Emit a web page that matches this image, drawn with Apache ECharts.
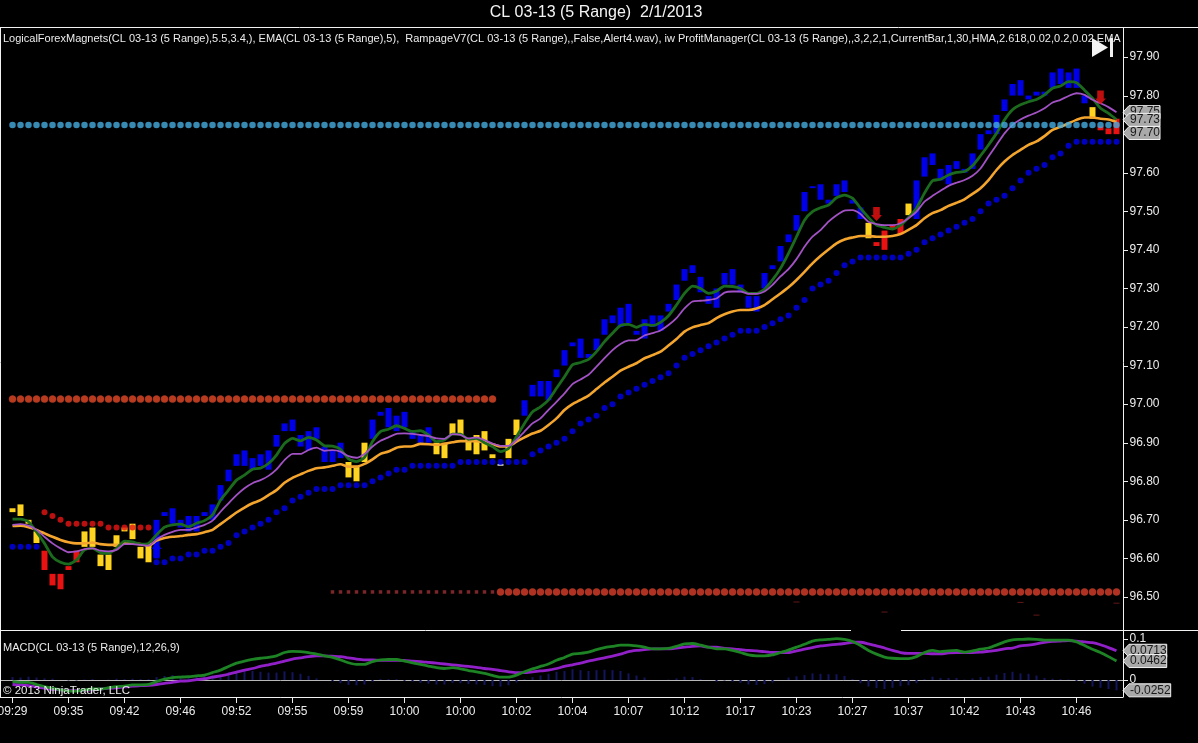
<!DOCTYPE html>
<html>
<head>
<meta charset="utf-8">
<style>html,body{margin:0;padding:0;background:#000}#c{width:1198px;height:743px}</style>
<script src="https://cdn.jsdelivr.net/npm/echarts@6/dist/echarts.min.js"></script>
</head>
<body>
<div id="c"></div>
<script>
var tickLabels = ['09:29','09:35','09:42','09:46','09:52','09:55','09:59','10:00','10:00','10:02','10:04','10:07','10:12','10:17','10:23','10:27','10:37','10:42','10:43','10:46'];
var priceTicks = [96.5,96.6,96.7,96.8,96.9,97.0,97.1,97.2,97.3,97.4,97.5,97.6,97.7,97.8,97.9];
var macdTicks = [0,0.1];

var barColorRuns = [['G',4],['R',5],['G',9],['B',24],['G',3],['B',8],['G',8],['W',1],['G',2],['B',43],['G',1],['R',4],['G',1],['B',22],['G',1],['R',3]];
var barLows = [
96.72,96.71,96.69,96.64,96.57,96.53,96.52,96.57,96.59,96.63,
96.63,96.58,96.57,96.63,96.67,96.65,96.60,96.59,96.60,96.71,
96.69,96.68,96.67,96.67,96.71,96.70,96.75,96.80,96.84,96.84,
96.83,96.84,96.83,96.89,96.93,96.93,96.89,96.88,96.91,96.85,
96.85,96.86,96.81,96.80,96.85,96.91,96.97,96.94,96.93,96.94,
96.91,96.90,96.90,96.87,96.86,96.92,96.92,96.88,96.87,96.88,
96.86,96.84,96.86,96.92,96.97,97.02,97.02,97.01,97.07,97.10,
97.15,97.12,97.12,97.14,97.18,97.21,97.20,97.21,97.18,97.17,
97.20,97.19,97.24,97.27,97.32,97.34,97.29,97.26,97.25,97.31,
97.31,97.29,97.25,97.24,97.30,97.35,97.37,97.42,97.45,97.50,
97.56,97.53,97.52,97.54,97.55,97.52,97.48,97.43,97.41,97.40,
97.455,97.44,97.49,97.48,97.59,97.62,97.58,97.57,97.61,97.60,
97.61,97.66,97.70,97.70,97.76,97.80,97.80,97.79,97.80,97.80,
97.82,97.83,97.82,97.82,97.78,97.74,97.71,97.70,97.70];
var barHighs = [
96.73,96.74,96.70,96.67,96.62,96.56,96.56,96.58,96.62,96.67,
96.68,96.61,96.61,96.66,96.68,96.69,96.63,96.64,96.70,96.72,
96.73,96.70,96.71,96.71,96.72,96.74,96.79,96.83,96.87,96.88,
96.86,96.87,96.88,96.92,96.95,96.96,96.92,96.93,96.94,96.89,
96.88,96.90,96.85,96.84,96.90,96.96,96.98,96.99,96.97,96.98,
96.93,96.92,96.94,96.90,96.90,96.95,96.96,96.91,96.92,96.93,
96.87,96.845,96.91,96.96,97.01,97.05,97.06,97.06,97.09,97.14,
97.16,97.17,97.13,97.17,97.22,97.23,97.25,97.26,97.19,97.22,
97.23,97.23,97.26,97.31,97.35,97.36,97.33,97.28,97.30,97.34,
97.35,97.31,97.28,97.28,97.34,97.36,97.41,97.44,97.49,97.55,
97.565,97.57,97.53,97.57,97.58,97.53,97.51,97.47,97.42,97.45,
97.465,97.48,97.52,97.58,97.64,97.65,97.61,97.62,97.63,97.61,
97.65,97.70,97.71,97.75,97.79,97.83,97.84,97.80,97.81,97.81,
97.86,97.87,97.86,97.87,97.80,97.77,97.72,97.715,97.74];
var stops = [
96.63,96.63,96.63,96.63,96.72,96.71,96.70,96.69,96.69,96.69,
96.69,96.69,96.68,96.68,96.68,96.68,96.68,96.68,96.59,96.59,
96.60,96.60,96.61,96.61,96.62,96.62,96.63,96.64,96.66,96.67,
96.68,96.69,96.70,96.72,96.73,96.75,96.76,96.77,96.78,96.78,
96.78,96.79,96.79,96.79,96.79,96.80,96.81,96.82,96.83,96.83,
96.84,96.84,96.84,96.84,96.84,96.84,96.85,96.85,96.85,96.85,
96.85,96.85,96.85,96.85,96.85,96.87,96.88,96.89,96.90,96.91,
96.93,96.95,96.96,96.97,96.99,97.00,97.02,97.03,97.04,97.05,
97.06,97.07,97.08,97.10,97.12,97.13,97.14,97.15,97.16,97.17,
97.18,97.19,97.19,97.19,97.20,97.21,97.22,97.23,97.25,97.27,
97.30,97.31,97.32,97.34,97.36,97.37,97.38,97.38,97.38,97.38,
97.38,97.38,97.39,97.40,97.42,97.43,97.44,97.45,97.46,97.47,
97.48,97.50,97.52,97.53,97.54,97.56,97.58,97.60,97.61,97.62,
97.64,97.65,97.67,97.68,97.68,97.68,97.68,97.68,97.68];
var stopRedFrom = 4, stopRedTo = 17;

var greenLine = [
96.702,96.702,96.695,96.669,96.639,96.604,96.590,96.585,96.596,96.622,
96.626,96.615,96.613,96.626,96.645,96.643,96.637,96.639,96.661,96.681,
96.687,96.689,96.682,96.691,96.698,96.713,96.751,96.777,96.803,96.816,
96.831,96.834,96.846,96.868,96.898,96.911,96.905,96.914,96.907,96.892,
96.891,96.883,96.858,96.851,96.862,96.903,96.929,96.935,96.944,96.937,
96.929,96.931,96.920,96.903,96.907,96.922,96.922,96.909,96.911,96.900,
96.890,96.877,96.885,96.916,96.950,96.980,96.993,97.011,97.041,97.071,
97.102,97.108,97.116,97.136,97.162,97.184,97.204,97.207,97.199,97.207,
97.204,97.212,97.229,97.257,97.287,97.306,97.300,97.287,97.293,97.306,
97.305,97.300,97.287,97.287,97.298,97.322,97.352,97.391,97.434,97.477,
97.499,97.509,97.516,97.535,97.542,97.534,97.508,97.484,97.464,97.458,
97.454,97.464,97.484,97.508,97.547,97.579,97.583,97.594,97.601,97.603,
97.618,97.644,97.672,97.702,97.737,97.763,97.776,97.784,97.790,97.802,
97.819,97.825,97.836,97.833,97.814,97.793,97.767,97.754,97.738];
var purpleLine = [
96.687,96.689,96.685,96.674,96.656,96.639,96.626,96.616,96.618,96.624,
96.626,96.620,96.618,96.622,96.637,96.637,96.635,96.633,96.649,96.661,
96.669,96.674,96.674,96.680,96.687,96.698,96.721,96.743,96.764,96.782,
96.795,96.803,96.814,96.831,96.855,96.871,96.871,96.881,96.887,96.879,
96.881,96.877,96.865,96.861,96.871,96.890,96.905,96.914,96.923,96.924,
96.923,96.920,96.917,96.911,96.910,96.922,96.920,96.911,96.914,96.907,
96.898,96.892,96.892,96.907,96.929,96.950,96.963,96.985,97.006,97.028,
97.052,97.064,97.076,97.097,97.119,97.140,97.156,97.165,97.166,97.178,
97.184,97.191,97.205,97.223,97.248,97.266,97.268,97.270,97.274,97.289,
97.292,97.292,97.286,97.286,97.292,97.309,97.331,97.350,97.376,97.408,
97.434,97.451,97.473,97.490,97.502,97.503,97.493,97.473,97.467,97.464,
97.464,97.469,97.482,97.499,97.525,97.540,97.553,97.566,97.574,97.581,
97.592,97.611,97.642,97.672,97.702,97.724,97.738,97.748,97.756,97.767,
97.782,97.789,97.799,97.806,97.802,97.789,97.780,97.770,97.757];
var orangeLine = [
96.684,96.685,96.681,96.674,96.665,96.656,96.648,96.642,96.639,96.639,
96.641,96.637,96.635,96.635,96.639,96.639,96.637,96.633,96.646,96.653,
96.656,96.658,96.661,96.663,96.668,96.674,96.689,96.704,96.719,96.732,
96.743,96.751,96.764,96.777,96.796,96.809,96.818,96.827,96.834,96.836,
96.840,96.844,96.838,96.838,96.845,96.857,96.871,96.877,96.887,96.890,
96.891,96.897,96.896,96.894,96.897,96.901,96.904,96.904,96.904,96.900,
96.896,96.890,96.890,96.903,96.914,96.924,96.931,96.946,96.963,96.985,
97.000,97.011,97.022,97.039,97.056,97.071,97.087,97.097,97.106,97.119,
97.127,97.136,97.152,97.169,97.188,97.199,97.205,97.210,97.223,97.233,
97.240,97.244,97.244,97.248,97.257,97.272,97.287,97.303,97.322,97.343,
97.365,97.384,97.401,97.417,97.427,97.432,97.436,97.436,97.434,97.434,
97.436,97.441,97.452,97.464,97.482,97.495,97.503,97.514,97.522,97.531,
97.545,97.560,97.581,97.607,97.629,97.646,97.659,97.672,97.681,97.695,
97.711,97.719,97.728,97.737,97.743,97.743,97.740,97.738,97.732];

var macdLine = [
-.004,-.006,-.006,-.011,-.016,-.020,-.024,-.027,-.027,-.024,
-.022,-.022,-.019,-.016,-.015,-.012,-.012,-.011,-.004,.002,
.006,.007,.008,.010,.012,.018,.024,.033,.041,.046,
.050,.053,.055,.059,.067,.070,.069,.067,.063,.059,
.055,.049,.042,.038,.038,.045,.049,.050,.050,
.046,.042,.038,.034,.030,.028,.030,.027,.023,.020,
.016,.011,.007,.007,.012,.020,.027,.033,.039,.048,
.055,.063,.065,.068,.074,.079,.082,.085,.085,.083,
.080,.076,.076,.077,.082,.088,.089,.085,.080,.076,
.076,.072,.067,.061,.059,.059,.061,.067,.073,.080,
.087,.095,.098,.099,.101,.099,.094,.084,.072,.063,
.056,.053,.052,.052,.057,.067,.072,.069,.071,.072,
.068,.071,.075,.078,.085,.093,.098,.099,.100,.099,
.097,.097,.097,.097,.093,.084,.075,.067,.057,.0462];
var signalLine = [
-.011,-.012,-.014,-.017,-.020,-.023,-.024,-.026,-.026,-.025,
-.024,-.022,-.020,-.019,-.017,-.015,-.014,-.013,-.011,-.008,
-.006,-.003,-.002,.001,.003,.007,.010,.014,.019,.024,
.028,.033,.037,.041,.046,.051,.054,.057,.059,.059,
.058,.057,.054,.051,.049,.049,.048,.048,.048,
.048,.046,.045,.043,.041,.039,.037,.035,.033,.031,
.028,.026,.023,.020,.018,.018,.020,.022,.024,.028,
.033,.037,.041,.046,.050,.054,.058,.063,.069,.072,
.074,.076,.076,.076,.078,.080,.082,.083,.080,.080,
.077,.076,.074,.072,.071,.069,.067,.067,.067,.071,
.075,.079,.083,.085,.087,.089,.092,.092,.088,.083,
.078,.072,.067,.065,.065,.065,.064,.064,.066,.067,
.067,.067,.068,.070,.072,.076,.078,.083,.085,.088,
.092,.094,.095,.096,.095,.093,.091,.086,.079,.0713];
var macdHist = [
.007,.006,.008,.006,.004,.003,0,-.001,-.001,.001,
.002,0,.001,.003,.002,.003,.002,.002,.007,.010,
.012,.010,.010,.009,.009,.011,.014,.019,.022,.022,
.022,.020,.018,.018,.021,.019,.015,.010,.004,0,
-.003,-.008,-.012,-.013,-.011,-.004,.002,.002,.002,
-.002,-.004,-.007,-.009,-.011,-.011,-.007,-.008,-.010,-.011,
-.012,-.015,-.016,-.013,-.006,.002,.007,.011,.015,.020,
.022,.026,.024,.022,.024,.025,.024,.022,.016,.011,
.006,0,0,.001,.004,.008,.007,.002,0,-.004,
-.001,-.004,-.007,-.011,-.012,-.010,-.006,0,.006,.009,
.012,.016,.015,.014,.014,.010,.002,-.008,-.016,-.020,
-.022,-.019,-.015,-.013,-.008,.002,.008,.005,.005,.005,
.001,.004,.007,.008,.013,.017,.020,.016,.015,.011,
.005,.003,.002,.001,-.002,-.009,-.016,-.019,-.022,-.0252];

var cyanLevel = 97.724, cyanFrom = 0, cyanTo = 138;
var upperRedLevel = 97.013, upperRedFrom = 0, upperRedTo = 60;
var lowerLevel = 96.513, lowerSquareFrom = 40, lowerSquareTo = 60, lowerDotFrom = 61, lowerDotTo = 138;

var sellArrows = [[108, 97.493], [136, 97.795]];
var buyArrows = [[18, 96.622]];
var smudges = [[98,96.487],[126,96.486],[138,96.484],[109,96.461],[128,96.453]];

var priceTagLabels = ['97.75','97.73','97.70'];
var priceTagValues = [97.757,97.737,97.703];
var macdTagLabels = ['0.0713','0.0462','-0.0252'];
var macdTagValues = [0.0713,0.0462,-0.0252];

var titleText = 'CL 03-13 (5 Range)  2/1/2013';
var indicatorText = 'LogicalForexMagnets(CL 03-13 (5 Range),5.5,3.4,), EMA(CL 03-13 (5 Range),5),  RampageV7(CL 03-13 (5 Range),,False,Alert4.wav), iw ProfitManager(CL 03-13 (5 Range),,3,2,2,1,CurrentBar,1,30,HMA,2.618,0.02,0.2,0.02,EMA';
var macdText = 'MACD(CL 03-13 (5 Range),12,26,9)';
var copyrightText = '\u00a9 2013 NinjaTrader, LLC';

var PAD = 2, N = barLows.length, LAST = N + PAD;  /* two blank slots before, one after */
var FONT = '"Liberation Sans", Arial, sans-serif';
var WHITE = '#ececec';
var colorMap = {G:'#ffd420', R:'#e81212', B:'#0000e8', W:'#c8c8c8'};

var barColors = [];
barColorRuns.forEach(function(r){ for (var k = 0; k < r[1]; k++) barColors.push(colorMap[r[0]]); });

var categories = [];
for (var c = 0; c <= LAST; c++) {
  var b = c - PAD;
  categories.push(b >= 0 && b % 7 === 0 && tickLabels[b / 7] ? tickLabels[b / 7] : '');
}
function pad(arr) { return [ '-', '-' ].concat(arr, [ '-' ]); }
function at(i, v) { return [i + PAD, v]; }
function level(v, from, to) { var o = []; for (var i = from; i <= to; i++) o.push(at(i, v)); return o; }

var candles = [];
for (var p = 0; p <= LAST; p++) {
  var q = p - PAD;
  if (q >= 0 && q < N) {
    var col = barColors[q];
    candles.push({ value: [barLows[q], barHighs[q], barLows[q], barHighs[q]],
      itemStyle: { color: col, color0: col, borderColor: col, borderColor0: col, borderWidth: 0 } });
  } else {
    candles.push([NaN, NaN, NaN, NaN]);
  }
}

var canvasCtx = document.createElement('canvas').getContext('2d');
canvasCtx.font = '12px ' + FONT;

function tagRender(labels) {
  return function (params, api) {
    var y = api.coord([LAST, api.value(1)])[1];
    var label = labels[params.dataIndex];
    var tip = 1123, bodyL = tip + 6, textX = tip + 7;
    var bodyR = textX + canvasCtx.measureText(label).width;
    return { type: 'group', children: [
      { type: 'polygon',
        shape: { points: [[tip, y], [bodyL, y - 6.5], [bodyR, y - 6.5], [bodyR, y + 6.5], [bodyL, y + 6.5]] },
        style: { fill: '#a9a9a9', stroke: '#f0f0f0', lineWidth: 1 } },
      { type: 'text', style: { x: textX, y: y, text: label, fill: '#1a1a1a', font: '12px ' + FONT, textAlign: 'left', textVerticalAlign: 'middle' } }
    ] };
  };
}
function tickRender(params, api) {
  var y = Math.round(api.coord([LAST, api.value(1)])[1]) + 0.5;
  return { type: 'line', shape: { x1: 1123, y1: y, x2: 1128, y2: y }, style: { stroke: WHITE, lineWidth: 1 } };
}

function text(x, y, str, size, align, fill) {
  return { type: 'text', z: 120, silent: true,
    style: { x: x, y: y, text: str, fill: fill || WHITE, font: size + 'px ' + FONT, textAlign: align || 'left', textVerticalAlign: 'middle' } };
}
function rule(x1, y1, x2, y2) {
  return { type: 'line', z: 110, silent: true, shape: { x1: x1, y1: y1, x2: x2, y2: y2 }, style: { stroke: '#f2f2f2', lineWidth: 1 } };
}

var ARROW_DOWN = 'path://M2,0 L8,0 L8,8 L10,8 L5,14 L0,8 L2,8 Z';
var ARROW_UP = 'path://M5,0 L10,6 L8,6 L8,14 L2,14 L2,6 L0,6 Z';

function yAxis(grid, min, max, ticks, fmt) {
  return { type: 'value', gridIndex: grid, position: 'right', offset: -1, min: min, max: max, scale: true,
    splitLine: { show: false },
    axisLine: { show: false, onZero: false },
    axisTick: { show: false },
    axisLabel: { show: true, customValues: ticks, formatter: fmt, margin: 6, color: WHITE, fontFamily: FONT, fontSize: 12 } };
}

var option = {
  backgroundColor: '#000',
  animation: false,
  grid: [
    { left: -3.5, width: 1128, top: 27.5, height: 602.5, outerBoundsMode: 'none', containLabel: false },
    { left: -3.5, width: 1128, top: 630.5, height: 66.5, outerBoundsMode: 'none', containLabel: false }
  ],
  xAxis: [
    { type: 'category', gridIndex: 0, data: categories, boundaryGap: false, show: false },
    { type: 'category', gridIndex: 1, data: categories, boundaryGap: false,
      axisLine: { show: false, onZero: false },
      axisTick: { show: true, length: 6, interval: function (i) { return i >= PAD && (i - PAD) % 7 === 0 && i - PAD < 7 * tickLabels.length; }, lineStyle: { color: WHITE } },
      axisLabel: { interval: 0, margin: 9, color: WHITE, fontFamily: FONT, fontSize: 12 } }
  ],
  yAxis: [
    yAxis(0, 96.4144, 97.9765, priceTicks, function (v) { return v.toFixed(2); }),
    yAxis(1, -0.0415, 0.1207, macdTicks, function (v) { return v === 0 ? '0' : String(v); })
  ],
  series: [
    { type: 'candlestick', name: 'Range bars', xAxisIndex: 0, yAxisIndex: 0, barWidth: 6, z: 2, data: candles },
    { type: 'scatter', name: 'Upper level', data: level(upperRedLevel, upperRedFrom, upperRedTo), symbolSize: 7, z: 3,
      itemStyle: { color: '#e64a26', borderColor: '#b83e2a', borderWidth: 0.6 } },
    { type: 'scatter', name: 'Lower squares', data: level(lowerLevel, lowerSquareFrom, lowerSquareTo), symbol: 'rect', symbolSize: 3.5, z: 3,
      itemStyle: { color: '#9a3032' } },
    { type: 'scatter', name: 'Lower dots', data: level(lowerLevel, lowerDotFrom, lowerDotTo), symbolSize: 7, z: 3,
      itemStyle: { color: '#dc3d2a', borderColor: '#b83e2a', borderWidth: 0.6 } },
    { type: 'scatter', name: 'Stops', z: 3, symbolSize: 6,
      data: stops.map(function (v, i) {
        var red = i >= stopRedFrom && i <= stopRedTo;
        return { value: at(i, v), itemStyle: { color: red ? '#e81414' : '#0000f0' } };
      }) },
    { type: 'scatter', name: 'Smudges', data: smudges.map(function (s) { return at(s[0], s[1]); }), symbol: 'rect', symbolSize: [6, 1], z: 3,
      itemStyle: { color: '#7a1f1f' } },
    { type: 'line', name: 'Orange', data: pad(orangeLine), showSymbol: false, smooth: 0.2, z: 4, lineStyle: { color: '#f4a52e', width: 2.6 } },
    { type: 'line', name: 'Green', data: pad(greenLine), showSymbol: false, smooth: 0.2, z: 5, lineStyle: { color: '#1c6a1e', width: 2.8 } },
    { type: 'line', name: 'Purple', data: pad(purpleLine), showSymbol: false, smooth: 0.2, z: 6, lineStyle: { color: '#a252c4', width: 1.8 } },
    { type: 'scatter', name: 'Cyan level', data: level(cyanLevel, cyanFrom, cyanTo), symbolSize: 6.5, z: 7,
      itemStyle: { color: '#45ace0' } },
    { type: 'scatter', name: 'Sell arrows', data: sellArrows.map(function (a) { return at(a[0], a[1]); }), symbol: ARROW_DOWN, symbolSize: [11, 14], z: 8,
      itemStyle: { color: '#ee1212' } },
    { type: 'scatter', name: 'Buy arrows', data: buyArrows.map(function (a) { return at(a[0], a[1]); }), symbol: ARROW_UP, symbolSize: [11, 14], z: 8,
      itemStyle: { color: '#0000f0' } },
    { type: 'custom', name: 'Price axis ticks', xAxisIndex: 0, yAxisIndex: 0, z: 19, clip: false, renderItem: tickRender,
      data: priceTicks.map(function (v) { return [LAST, v]; }), encode: { x: 0, y: 1 } },
    { type: 'custom', name: 'Price tags', xAxisIndex: 0, yAxisIndex: 0, z: 20, clip: false, renderItem: tagRender(priceTagLabels),
      data: priceTagValues.map(function (v) { return [LAST, v]; }), encode: { x: 0, y: 1 } },

    { type: 'bar', name: 'MACD diff', xAxisIndex: 1, yAxisIndex: 1, data: pad(macdHist), barWidth: 2, z: 4,
      itemStyle: { color: '#15155f' },
      markLine: { silent: true, symbol: 'none', z: 1, label: { show: false }, lineStyle: { color: '#b8b8b8', width: 1, type: 'solid' }, data: [{ yAxis: 0 }] } },
    { type: 'line', name: 'Signal', xAxisIndex: 1, yAxisIndex: 1, data: pad(signalLine), showSymbol: false, smooth: 0.2, z: 5, lineStyle: { color: '#9120c8', width: 2.8 } },
    { type: 'line', name: 'MACD', xAxisIndex: 1, yAxisIndex: 1, data: pad(macdLine), showSymbol: false, smooth: 0.2, z: 6, lineStyle: { color: '#1d8324', width: 2.8 } },
    { type: 'custom', name: 'MACD axis ticks', xAxisIndex: 1, yAxisIndex: 1, z: 19, clip: false, renderItem: tickRender,
      data: macdTicks.map(function (v) { return [LAST, v]; }), encode: { x: 0, y: 1 } },
    { type: 'custom', name: 'MACD tags', xAxisIndex: 1, yAxisIndex: 1, z: 20, clip: false, renderItem: tagRender(macdTagLabels),
      data: macdTagValues.map(function (v) { return [LAST, v]; }), encode: { x: 0, y: 1 } }
  ],
  graphic: [
    rule(0, 27.5, 1198, 27.5),
    rule(0.5, 27.5, 0.5, 697),
    rule(1123.5, 27.5, 1123.5, 697),
    rule(0, 630.5, 851, 630.5),
    rule(901, 630.5, 1198, 630.5),
    rule(0, 697.5, 1123.5, 697.5),
    text(596, 13, titleText, 16, 'center', '#f4f4f4'),
    text(3, 38.5, indicatorText, 11),
    text(3, 648, macdText, 11),
    text(3, 691, copyrightText, 11.5),
    { type: 'polygon', z: 130, silent: true, shape: { points: [[1092, 38], [1108, 47.5], [1092, 57]] }, style: { fill: '#f4f4f4' } },
    { type: 'rect', z: 130, silent: true, shape: { x: 1110, y: 38, width: 3, height: 19 }, style: { fill: '#f0f0f0' } }
  ]
};
echarts.init(document.getElementById('c'), null, { renderer: 'canvas' }).setOption(option);
</script>
</body>
</html>
